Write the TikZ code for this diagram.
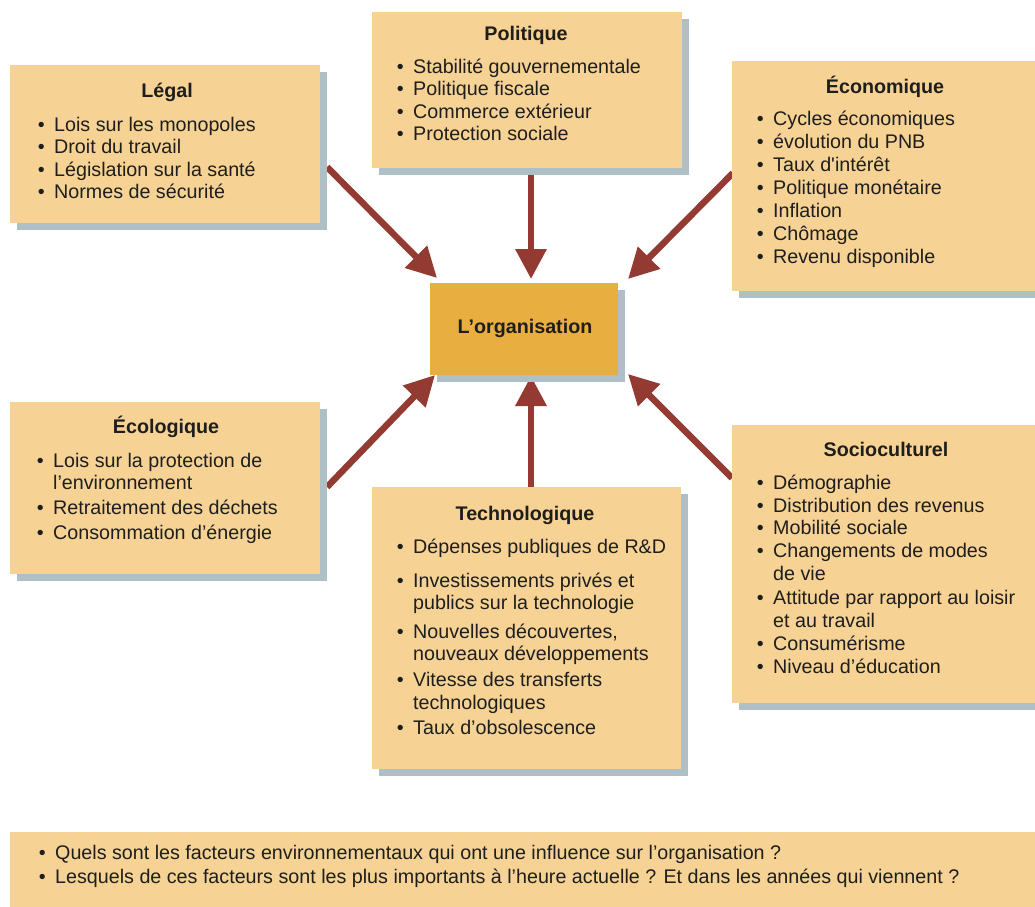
\documentclass[tikz,border=0pt]{standalone}
\usepackage{fontspec}
\setmainfont{Liberation Sans}
\usetikzlibrary{arrows.meta,shadows}
\definecolor{boxc}{HTML}{F6D394}
\definecolor{shadc}{HTML}{AEBFC6}
\definecolor{orgc}{HTML}{E8AE3F}
\definecolor{arrc}{HTML}{933A33}
\definecolor{txtc}{HTML}{1E1E1E}
\newcommand\bul{\llap{\textbullet\hspace{9.5pt}}}
\begin{document}
\begin{tikzpicture}[x=1pt,y=-1pt,
  box/.style={fill=boxc, draw=none, inner sep=0pt, outer sep=0pt, anchor=north west,
    drop shadow={shadow xshift=7pt, shadow yshift=-7pt, fill=shadc, opacity=1}},
  flatbox/.style={fill=boxc, draw=none, inner sep=0pt, outer sep=0pt, anchor=north west},
  orgbox/.style={box, fill=orgc},
  itemtxt/.style={anchor=base west, inner sep=0pt, text=txtc, font=\fontsize{19.7}{22.7}\selectfont},
  ttl/.style={anchor=base, inner sep=0pt, text=txtc, font=\fontsize{19.7}{22.7}\selectfont\bfseries},
  arr/.style={draw=arrc, line width=6.5pt, -{Triangle[length=30pt,width=30pt]}, arrc}
]
\clip (0,0) rectangle (1035,906);
% arrow end points
\coordinate (tLegal) at (327,167);   \coordinate (hLegal) at (437,278);
\coordinate (tPol) at (531,168);     \coordinate (hPol) at (531,279);
\coordinate (tEco) at (733,173);     \coordinate (hEco) at (628,279);
\coordinate (tEcol) at (327,487);    \coordinate (hEcol) at (435,375);
\coordinate (tTech) at (531,487);    \coordinate (hTech) at (531,376);
\coordinate (tSoc) at (732,478);     \coordinate (hSoc) at (628,374);
\draw[arr] (tLegal) -- (hLegal);
\draw[arr] (tPol) -- (hPol);
\draw[arr] (tEco) -- (hEco);
\draw[arr] (tEcol) -- (hEcol);
\draw[arr] (tTech) -- (hTech);
\draw[arr] (tSoc) -- (hSoc);
% boxes
\node[box, minimum width=310pt, minimum height=158pt] (legal) at (10,65) {};
\node[box, minimum width=310pt, minimum height=156pt] (polit) at (372,12) {};
\node[box, minimum width=330pt, minimum height=230pt] (econ) at (732,61) {};
\node[orgbox, minimum width=188pt, minimum height=92pt] (org) at (430,283) {};
\node[box, minimum width=310pt, minimum height=172pt] (ecol) at (10,402) {};
\node[box, minimum width=309pt, minimum height=282pt] (tech) at (372,487) {};
\node[box, minimum width=330pt, minimum height=278pt] (socio) at (732,425) {};
\node[flatbox, minimum width=1040pt, minimum height=80pt] (quest) at (10,832) {};
% titles
\node[ttl] (legalT) at (167,97) {Légal};
\node[ttl] (politT) at (526,40) {Politique};
\node[ttl] (econT) at (885,93) {Économique};
\node[ttl] (orgT) at (525,333) {L’organisation};
\node[ttl] (ecolT) at (166,433) {Écologique};
\node[ttl] (techT) at (525,520) {Technologique};
\node[ttl] (socioT) at (886,456) {Socioculturel};
% Legal items
\node[itemtxt] (lg1) at (54,131) {\bul Lois sur les monopoles};
\node[itemtxt] (lg2) at (54,153) {\bul Droit du travail};
\node[itemtxt] (lg3) at (54,176) {\bul Législation sur la santé};
\node[itemtxt] (lg4) at (54,198) {\bul Normes de sécurité};
% Politique items
\node[itemtxt] (po1) at (413,73) {\bul Stabilité gouvernementale};
\node[itemtxt] (po2) at (413,95) {\bul Politique fiscale};
\node[itemtxt] (po3) at (413,118) {\bul Commerce extérieur};
\node[itemtxt] (po4) at (413,140) {\bul Protection sociale};
% Economique items
\node[itemtxt] (ec1) at (773,125) {\bul Cycles économiques};
\node[itemtxt] (ec2) at (773,148) {\bul évolution du PNB};
\node[itemtxt] (ec3) at (773,171) {\bul Taux d\textquotesingle intérêt};
\node[itemtxt] (ec4) at (773,194) {\bul Politique monétaire};
\node[itemtxt] (ec5) at (773,217) {\bul Inflation};
\node[itemtxt] (ec6) at (773,240) {\bul Chômage};
\node[itemtxt] (ec7) at (773,263) {\bul Revenu disponible};
% Ecologique items
\node[itemtxt] (el1) at (53,467) {\bul Lois sur la protection de};
\node[itemtxt] (el2) at (53,489) {l’environnement};
\node[itemtxt] (el3) at (53,514) {\bul Retraitement des déchets};
\node[itemtxt] (el4) at (53,539) {\bul Consommation d’énergie};
% Technologique items
\node[itemtxt] (te1) at (413,553) {\bul Dépenses publiques de R\&D};
\node[itemtxt] (te2) at (413,587) {\bul Investissements privés et};
\node[itemtxt] (te3) at (413,609) {publics sur la technologie};
\node[itemtxt] (te4) at (413,638) {\bul Nouvelles découvertes,};
\node[itemtxt] (te5) at (413,660) {nouveaux développements};
\node[itemtxt] (te6) at (413,686) {\bul Vitesse des transferts};
\node[itemtxt] (te7) at (413,709) {technologiques};
\node[itemtxt] (te8) at (413,734) {\bul Taux d’obsolescence};
% Socioculturel items
\node[itemtxt] (so1) at (773,489) {\bul Démographie};
\node[itemtxt] (so2) at (773,512) {\bul Distribution des revenus};
\node[itemtxt] (so3) at (773,534) {\bul Mobilité sociale};
\node[itemtxt] (so4) at (773,557) {\bul Changements de modes};
\node[itemtxt] (so5) at (773,580) {de vie};
\node[itemtxt] (so6) at (773,604) {\bul Attitude par rapport au loisir};
\node[itemtxt] (so7) at (773,627) {et au travail};
\node[itemtxt] (so8) at (773,650) {\bul Consumérisme};
\node[itemtxt] (so9) at (773,673) {\bul Niveau d’éducation};
% questions
\node[itemtxt] (qu1) at (55,859) {\bul Quels sont les facteurs environnementaux qui ont une influence sur l’organisation ?};
\node[itemtxt] (qu2) at (55,883) {\bul Lesquels de ces facteurs sont les plus importants à l’heure actuelle ? Et dans les années qui viennent ?};
\end{tikzpicture}
\end{document}
